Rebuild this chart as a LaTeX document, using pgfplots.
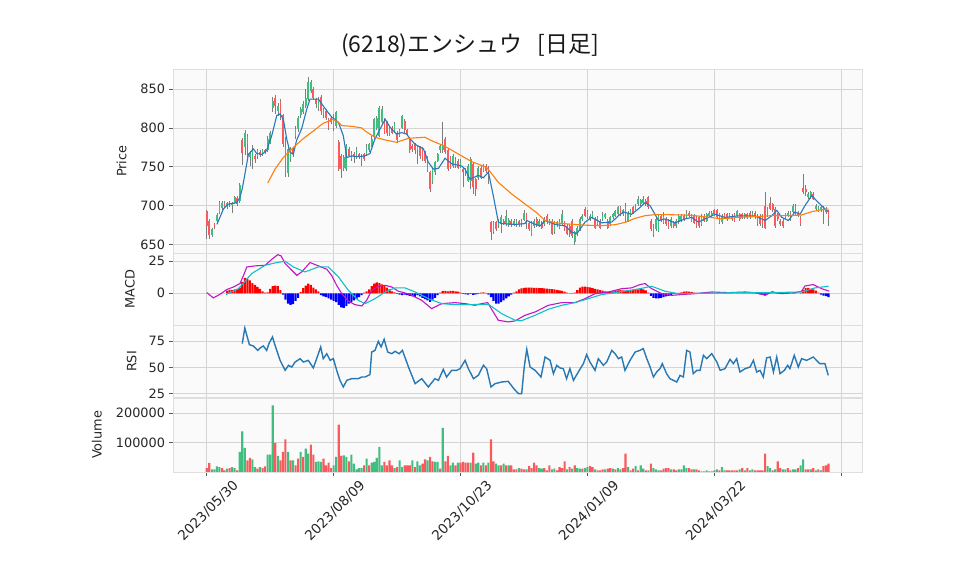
\documentclass[border=0pt]{standalone}
\usepackage{fontspec}
\setmainfont{DejaVu Sans}
\newfontfamily\jpfont{Noto Sans CJK JP}
\usepackage{pgfplots}
\usepackage{pgfplotstable}
\pgfplotsset{compat=1.18}

\definecolor{upc}{RGB}{64,190,128}
\definecolor{dnc}{RGB}{250,90,92}
\definecolor{wickc}{RGB}{125,125,125}
\definecolor{ma5c}{RGB}{40,120,190}
\definecolor{ma25c}{RGB}{255,127,14}
\definecolor{macdc}{RGB}{195,20,200}
\definecolor{sigc}{RGB}{20,190,200}
\definecolor{rsic}{RGB}{40,120,180}
\definecolor{gridc}{RGB}{212,212,212}
\definecolor{panelc}{RGB}{250,250,250}
\definecolor{spinec}{RGB}{222,222,222}

% i: trading day, o h l c: price, v: volume, vu: volume bar green(1)/red(0), hist: MACD histogram
\pgfplotstableread{
i o h l c v vu hist
0 693 695 657 674 13600 0 0
1 681 683 657 663 30700 0 0
2 663 672 660 670 9100 1 0
3 676 678 670 673 9100 1 0
4 681 690 679 688 19300 1 0
5 691 706 689 704 17000 1 0
6 697 706 694 704 13600 0 0
7 704 706 698 700 5700 0 0
8 700 705 696 703 11400 1 2
9 704 706 698 701 13600 0 2.5
10 702 705 691 703 17000 1 2.5
11 704 713 702 711 13600 1 3
12 710 713 700 702 5700 0 3.5
13 706 729 704 726 68200 1 4.5
14 784 787 752 768 138600 1 9
15 775 797 765 794 81800 1 12
16 790 792 762 779 39800 0 11.5
17 762 770 751 766 47700 0 10
18 760 778 747 773 43200 1 8
19 764 766 755 760 17000 1 6.5
20 764 773 760 771 11400 0 5
21 769 771 762 765 17000 1 3.5
22 766 773 764 771 13600 0 1.5
23 771 773 766 769 19300 0 0.5
24 771 790 769 786 59100 1 0.8
25 781 796 779 794 59100 1 3.5
26 826 840 820 835 227000 1 5.5
27 839 842 818 828 98800 0 6
28 822 832 815 828 54500 1 5.5
29 835 837 810 816 39800 0 2.5
30 816 818 775 779 68200 0 -1
31 775 788 737 741 111300 0 -5
32 742 776 737 773 68200 1 -8
33 760 776 756 773 39800 0 -9
34 773 776 762 766 39800 1 -8.5
35 790 802 786 798 22700 0 -6
36 798 815 795 813 45400 0 -3.5
37 816 827 813 824 68200 1 1
38 820 834 818 831 51100 0 4
39 828 850 826 839 79500 1 6
40 837 865 835 859 62500 1 7.5
41 848 862 845 859 93200 0 6.5
42 850 852 836 839 59100 0 4.5
43 837 839 826 831 34100 1 3
44 826 840 822 837 36400 1 1.5
45 840 842 817 822 34100 1 -1.5
46 824 826 813 816 45400 0 -2.5
47 822 824 810 813 22700 0 -3
48 811 813 797 800 31800 0 -4
49 813 815 805 807 13600 0 -5
50 800 818 796 815 22700 1 -6
51 803 822 800 820 51100 1 -7
52 782 784 745 747 161300 0 -9
53 764 766 736 747 54500 0 -11
54 749 765 745 762 56800 1 -11.5
55 747 779 745 777 51100 1 -10
56 773 776 762 764 36400 0 -8
57 760 770 757 768 59100 1 -7
58 766 769 755 762 28400 1 -5.5
59 762 775 760 773 9100 1 -4.5
60 766 768 760 762 13600 1 -3
61 760 767 751 764 13600 1 -1.5
62 766 768 758 760 22700 0 0.5
63 766 779 764 775 45400 1 1.5
64 771 781 769 779 22700 0 3
65 778 789 775 786 31800 1 5.5
66 788 813 786 811 34100 1 7.5
67 800 815 797 813 47700 1 8.5
68 790 828 788 826 85200 1 8
69 808 828 805 824 22700 1 7
70 811 813 792 794 34100 0 6
71 807 809 790 794 22700 0 4.5
72 792 802 790 800 39800 0 3
73 800 802 792 794 22700 0 1.5
74 796 807 794 805 13600 1 0.8
75 794 796 781 784 17000 0 -0.5
76 790 799 788 797 39800 1 -1
77 800 817 798 815 17000 1 -1.5
78 809 811 794 797 22700 0 -1
79 797 799 790 792 22700 0 -1.5
80 786 788 768 771 22700 0 -2
81 777 779 769 773 39800 1 -2.5
82 779 781 766 771 17000 0 -3
83 771 777 754 775 36400 1 -1.5
84 775 777 760 764 22700 1 -2.5
85 773 775 757 760 28400 0 -3.5
86 768 770 755 758 43200 0 -4.5
87 762 764 743 745 39800 1 -5.5
88 743 745 717 722 51100 0 -6.8
89 730 749 728 747 36400 0 -5
90 743 758 740 756 34100 1 -3.5
91 758 768 756 766 34100 1 -1.5
92 771 779 768 777 11400 0 0.5
93 771 807 768 777 150000 1 1.8
94 786 788 766 769 36400 0 1.8
95 771 773 745 747 54500 0 1.5
96 762 764 747 749 22700 1 1.8
97 751 766 749 764 31800 1 1.8
98 760 763 749 751 22700 0 1.5
99 758 760 747 749 31800 1 1.2
100 750 760 748 756 31800 0 0.5
101 747 749 724 743 34100 0 -0.5
102 747 749 738 743 31800 0 -0.8
103 732 753 730 751 31800 0 -1
104 732 762 722 760 31800 1 -0.5
105 754 756 715 724 65900 0 -1.2
106 734 736 713 722 28400 1 -0.8
107 735 751 733 749 31800 1 -0.5
108 749 751 734 736 22700 0 0.5
109 745 753 743 751 31800 1 0.8
110 751 753 742 745 22700 0 0.3
111 749 751 728 739 31800 1 -1
112 679 681 656 666 111300 0 -3
113 666 680 664 678 36400 0 -6
114 679 681 668 670 28400 1 -8
115 675 683 672 681 22700 1 -8
116 676 688 665 685 22700 0 -7
117 681 683 675 677 28400 1 -5.5
118 676 694 674 687 22700 0 -4
119 675 684 673 682 22700 1 -2.5
120 681 683 673 675 22700 0 -1
121 676 683 674 681 9100 0 0.5
122 675 683 673 681 9100 0 1.5
123 680 682 673 675 13600 1 3
124 681 683 673 675 11400 0 3.8
125 682 694 680 691 9100 0 4.2
126 689 691 670 679 9100 1 4.4
127 678 680 668 670 20400 0 4.4
128 663 680 661 678 13600 0 4.4
129 674 683 672 681 31800 0 4.2
130 683 685 673 675 22700 0 4.2
131 675 683 673 681 13600 1 4
132 678 680 670 672 11400 1 4
133 676 685 674 683 13600 0 3.8
134 687 689 677 679 5700 0 3.6
135 677 683 675 681 22700 0 3.5
136 681 683 662 664 9100 1 3.3
137 666 681 664 679 11400 1 3
138 675 681 673 679 5700 0 2.6
139 672 683 670 681 17000 0 2.2
140 677 694 675 689 13600 0 1.8
141 679 681 668 670 36400 0 1.2
142 674 676 662 664 9100 1 0.6
143 674 676 660 664 17000 0 0.2
144 681 683 658 661 11400 1 -0.3
145 653 668 650 666 22700 0 0.5
146 664 674 661 672 13600 1 2.5
147 670 685 668 683 11400 1 4.5
148 683 689 681 687 11400 0 5.2
149 696 698 685 687 13600 1 5.2
150 692 694 683 685 17000 1 5
151 683 689 681 687 20400 0 4.6
152 685 693 683 691 17000 0 4
153 683 685 670 672 9100 1 3.5
154 676 687 674 685 5700 0 3
155 681 683 670 672 5700 0 2.5
156 683 692 681 687 9100 0 2
157 685 691 683 689 9100 1 1.5
158 681 683 670 672 11400 0 1.2
159 676 687 674 685 13600 0 1.2
160 685 691 683 689 11400 1 1.5
161 687 695 685 693 9100 0 2
162 689 700 687 698 13600 1 2.3
163 698 700 687 689 9100 1 2.5
164 689 696 687 694 13600 0 2.3
165 698 704 679 683 62500 0 2
166 681 693 679 691 17000 1 2
167 687 696 685 694 5700 0 2.3
168 698 700 689 691 11400 0 2.5
169 696 702 694 700 20400 1 2.8
170 702 713 700 709 5700 0 3
171 702 709 700 707 22700 1 3.2
172 704 713 702 709 11400 1 3
173 706 708 700 702 5700 0 2.2
174 711 713 696 698 5700 1 0.5
175 681 683 668 670 28400 0 -2
176 674 676 660 664 13600 1 -3.5
177 670 685 668 683 9100 1 -4
178 668 689 666 687 5700 1 -4
179 687 689 679 681 5700 0 -3.5
180 678 692 676 687 11400 0 -3
181 683 685 674 676 13600 0 -2.5
182 681 683 670 672 13600 0 -2
183 674 685 672 683 9100 1 -1.2
184 679 681 672 674 9100 0 -0.5
185 674 683 672 681 5700 0 -0.3
186 679 689 677 687 9100 1 0.3
187 681 689 679 687 9100 1 0.8
188 687 689 681 683 22700 1 1.2
189 685 694 683 691 13600 1 1.5
190 691 693 685 687 13600 0 1.3
191 681 689 679 687 9100 0 1
192 687 689 676 678 9100 1 0.6
193 685 687 672 674 9100 0 0.3
194 685 687 672 674 5700 0 0.2
195 676 689 674 687 2300 1 0.3
196 687 689 679 681 2300 0 0.2
197 681 691 679 689 5700 1 0.3
198 687 693 685 691 2300 1 0.3
199 687 693 685 691 2300 0 0.3
200 695 696 687 689 5700 1 0.4
201 694 696 683 685 9100 1 0.2
202 679 691 677 689 5700 0 0.1
203 679 690 677 687 17000 1 0.1
204 689 691 683 685 5700 1 0.1
205 689 691 681 683 5700 0 0.1
206 685 691 683 689 5700 0 0.2
207 687 689 681 683 5700 0 0.2
208 689 691 679 681 5700 0 0.2
209 687 695 685 693 5700 0 0.3
210 689 691 681 683 9100 1 0.2
211 689 691 683 685 13600 0 0.1
212 685 691 683 689 5700 1 0.1
213 689 691 683 685 13600 0 0.1
214 691 693 683 685 5700 1 0.1
215 687 693 685 691 9100 1 0.2
216 691 693 683 685 5700 0 0.1
217 687 689 674 676 5700 0 -0.4
218 687 689 674 676 5700 0 -0.8
219 685 689 672 676 5700 0 -1.2
220 700 718 670 672 62500 0 -1.5
221 696 698 685 687 20400 1 -0.5
222 704 711 694 696 13600 1 0.8
223 702 704 692 694 5700 0 1.5
224 696 698 672 674 9100 1 0.8
225 689 691 681 683 36400 0 0.2
226 681 683 674 676 13600 0 -0.3
227 681 683 672 674 9100 1 -0.5
228 685 691 683 689 9100 1 -0.3
229 687 693 685 691 13600 0 -0.2
230 691 693 681 687 5700 0 0
231 692 702 690 700 9100 1 0.3
232 700 702 687 689 9100 1 0.2
233 691 693 685 687 13600 0 0
234 685 687 674 676 22700 1 -0.2
235 723 741 715 717 43200 1 2.5
236 722 726 713 717 9100 0 4
237 711 717 709 715 9100 0 4.2
238 711 719 709 717 9100 1 3.5
239 715 717 707 709 13600 0 3
240 696 702 694 700 5700 1 2
241 694 700 692 698 9100 0 0.5
242 694 700 692 698 5700 1 -1
243 698 700 676 694 20400 0 -1.8
244 696 698 689 692 22700 0 -2.2
245 694 695 674 685 28400 0 -3
}\ohlc

\pgfplotsset{
  panel/.style={
    scale only axis, width=689bp, anchor=south west,
    xmin=-13.3, xmax=258.2,
    xtick={0,50,100,150,200,250}, xticklabels={},
    axis background/.style={fill=panelc},
    axis line style={draw=spinec},
    grid=major, major grid style={draw=gridc, line width=0.8bp},
    tick align=outside, ytick pos=left, xtick pos=bottom,
    major tick length=4.5bp,
    xtick style={draw=none},
    ytick style={draw=black!65, line width=0.7bp},
    tick label style={font=\fontsize{12.9}{14}\selectfont, text=black!85},
    /pgf/number format/assume math mode=true,
    scaled ticks=false,
    yticklabel style={/pgf/number format/.cd, fixed, 1000 sep={}},
    label style={font=\fontsize{12.9}{14}\selectfont, text=black!85},
    clip=true,
  },
}

\begin{document}
\begin{tikzpicture}
\path[use as bounding box] (0,0) rectangle (958bp,575bp);

\node[font=\jpfont\fontsize{23}{26}\selectfont, text=black!90] at (470bp,530bp) {(6218)エンシュウ\ \ \ [日足]};

% ---------------- price ----------------
\begin{axis}[panel, at={(173bp,321.5bp)}, height=184.5bp,
  ymin=638.6, ymax=875.7, ytick={650,700,750,800,850},
  ylabel={Price}, ylabel style={at={(axis description cs:-0.0745,0.5)}, anchor=center}]
\addplot[draw=none, mark=none, forget plot,
  error bars/.cd, y dir=both, y explicit, error mark=none,
  error bar style={draw=wickc, line width=0.6bp}]
  table[x=i, y expr=(\thisrow{h}+\thisrow{l})/2, y error expr=(\thisrow{h}-\thisrow{l})/2] {\ohlc};
\addplot[draw=none, mark=none, forget plot,
  restrict expr to domain={\thisrow{c}-\thisrow{o}}{0:1000},
  error bars/.cd, y dir=both, y explicit, error mark=none,
  error bar style={draw=upc, line width=1.7bp}]
  table[x=i, y expr=(\thisrow{o}+\thisrow{c})/2, y error expr=abs(\thisrow{c}-\thisrow{o})/2] {\ohlc};
\addplot[draw=none, mark=none, forget plot,
  restrict expr to domain={\thisrow{c}-\thisrow{o}}{-1000:-0.001},
  error bars/.cd, y dir=both, y explicit, error mark=none,
  error bar style={draw=dnc, line width=1.7bp}]
  table[x=i, y expr=(\thisrow{o}+\thisrow{c})/2, y error expr=abs(\thisrow{c}-\thisrow{o})/2] {\ohlc};
% 5-day average
\addplot[ma5c, line width=1.1bp, mark=none] coordinates {
(4,676) (6.6,696) (8.5,702) (11.8,704) (13,710) (14,722) (15,740) (16.4,766) (18.4,773)
(19.7,767) (21.7,766) (23.6,771) (25.6,790) (27.6,816) (28.9,818) (30.2,811) (31.5,786)
(32.8,769) (34.1,766) (35.4,784) (37.4,799) (39.4,824) (40.7,837) (44,837) (45.3,831)
(47.3,822) (49.2,814) (50.5,811) (51.9,807) (53.8,790) (55.2,762) (57.1,764) (59.7,763)
(62.4,764) (64.3,767) (66.3,786) (70.3,811) (72.2,801) (74.8,792) (76.8,794) (78.8,792)
(80.1,786) (82.1,779) (85.4,773) (87.3,756) (89.3,747) (91.3,748) (93.9,761) (96.5,754)
(100.5,751) (101.8,747) (103.7,734) (107,739) (109,736) (111,743) (112.9,713) (114.9,679)
(116.2,677) (121.5,676) (125.4,677) (126.1,681) (128.7,677) (131.3,674) (133.3,681)
(137.2,676) (141.2,674) (143.8,666) (145.8,664) (149.1,679) (151.7,685) (155.6,678)
(159.6,679) (162.2,687) (164.2,692) (167.4,689) (170.1,696) (172.7,704) (174.7,700)
(178,681) (180.6,683) (184.5,678) (188.5,683) (191.1,685) (193.7,679) (196.3,683)
(200.3,689) (204.2,685) (209.5,687) (216,687) (220,681) (222.6,687) (224.6,694)
(226.6,685) (229.2,681) (231.8,692) (233.8,689) (235.7,700) (238.4,713) (241,704)
(243.6,696) (245,692)};
% 25-day average
\addplot[ma25c, line width=1.1bp, mark=none] coordinates {
(24,729) (26.9,747) (30.2,762) (34.8,777) (38.7,788) (42,796) (45.9,806) (49.9,811)
(51.9,807) (53.2,803) (57.1,802) (61.1,800) (62.4,796) (64.3,792) (66.3,788) (70.3,784.5)
(74.8,781.5) (79.4,786.6) (86,788) (88.6,783.6) (93.9,776.3) (99.1,766.5) (104.4,756.6)
(110.3,749.3) (114.9,730) (120.2,715) (125.4,702.2) (130,691) (133.3,681) (137.2,678)
(142.5,676.5) (149.1,675) (155.6,674.4) (160.9,675.6) (164.8,678.6) (168.8,683.8)
(172.7,687.2) (176.6,688.5) (181.9,688.5) (188.5,688) (192.4,687.2) (198.3,685.1)
(202.9,683) (209.5,685) (216,686) (222.6,687.2) (229.2,687.2) (234.4,688.1) (238.4,692.3)
(241.7,694.5) (245,695.8)};
\end{axis}

% ---------------- MACD ----------------
\begin{axis}[panel, at={(173bp,250bp)}, height=71.5bp,
  ymin=-24.8, ymax=31.1, ytick={0,25},
  ylabel={MACD}, ylabel style={at={(axis description cs:-0.0624,0.5)}, anchor=center}]
\addplot[ybar, bar width=2.1bp, bar shift=0pt, fill=red, draw=none,
  restrict y to domain=0.001:100] table[x=i, y=hist] {\ohlc};
\addplot[ybar, bar width=2.1bp, bar shift=0pt, fill=blue, draw=none,
  restrict y to domain=-100:-0.001] table[x=i, y=hist] {\ohlc};
\addplot[macdc, line width=1.1bp, mark=none] coordinates {
(0,0.5) (2.6,-3.6) (5.2,-0.8) (7.9,2.9) (10.5,4.9) (13.1,7.6) (14.5,14) (15.8,20.6)
(19,21.4) (23,21.9) (25.9,27) (28,30.2) (29.3,29.2) (30.9,23.2) (33.5,18) (35.5,14)
(37.4,16.7) (40.7,24) (44,21.4) (47.3,18.8) (49.2,14) (51.2,6.2) (53.2,-0.3) (55.8,-6.2)
(58.4,-8.9) (61.1,-9.9) (63,-5.5) (65,2.3) (67.6,5.5) (70.3,6.2) (72.9,4.9) (75.5,1.6)
(78.1,0.3) (80.8,-1.6) (84.7,-5.5) (88.6,-12) (92.6,-8.1) (97.8,-7.3) (101.8,-8.1)
(105.7,-9.4) (108.3,-8.1) (110.7,-7.3) (112.5,-13.3) (114.9,-21.1) (118.8,-22.4)
(121.5,-21.6) (125.4,-17.2) (129.4,-14.6) (134.6,-9.4) (139.9,-7.3) (145.1,-7.3)
(149.1,-4.2) (153,-0.3) (158.3,1) (163.5,3.6) (167.4,4.2) (170.7,6.8) (172.7,7.6)
(175.3,3.6) (179.3,-0.3) (183.2,-1.6) (187.2,-1) (192.4,-0.3) (199,1) (205.5,0.5)
(212.1,1) (217,0.3) (220,-1.6) (222.6,1) (226.5,-0.3) (231.8,0.5) (234.4,1.6) (235.7,5.7)
(239,6.8) (242.3,3.6) (245.3,1.6)};
\addplot[sigc, line width=1.1bp, mark=none] coordinates {
(7.6,-1) (12.5,3.6) (17.7,15.4) (23,21.9) (27.6,24) (30.9,25) (34.1,20.6) (38.7,16.7)
(44,20.6) (47.9,20.6) (51.9,12.8) (55.8,2.3) (59.7,-5.5) (62.4,-8.1) (66.3,-4.2) (70.3,1)
(74.2,4.2) (78.1,4.2) (82.1,1) (87.3,-4.2) (92.6,-8.1) (97.8,-8.9) (103.1,-8.9) (111,-8.6)
(116.2,-15.9) (121.5,-21.1) (124.1,-21.4) (129.4,-17.2) (134.6,-12.5) (139.9,-9.4)
(145.1,-7.3) (150.4,-4.2) (155.6,-1) (160.9,0.5) (166.1,2.1) (170.7,3.6) (175.3,5.5)
(180.6,1.6) (185.8,-0.3) (195,0) (208.2,0.5) (221.3,0.5) (234.4,1) (239.7,4.2) (245,5.5)};
\end{axis}

% ---------------- RSI ----------------
\begin{axis}[panel, at={(173bp,177.5bp)}, height=72bp,
  ymin=21, ymax=90.2, ytick={25,50,75},
  ylabel={RSI}, ylabel style={at={(axis description cs:-0.0599,0.5)}, anchor=center}]
\addplot[rsic, line width=1.4bp, mark=none] coordinates {
(14,72.8) (15,87.8) (16.8,71.8) (18.4,70.5) (20.1,66.3) (21,68.6) (22.3,70.5) (23.6,66.3)
(24.5,72.8) (25.9,79.2) (26.9,71.2) (28.9,56.7) (30.9,47.1) (32.2,51.9) (33.5,50.3)
(34.8,55.1) (36.8,58.3) (38.1,55.1) (40,56.7) (42,49.4) (43.3,58.3) (44.9,69.6) (45.9,58.3)
(47.3,63.1) (48.6,56.7) (49.9,58.3) (51.2,47.1) (52.5,37.5) (53.8,31.1) (55.2,37.5)
(57.1,39.1) (59.7,39.1) (61.1,40.7) (62.4,40.7) (64.3,43) (65,64.7) (66.3,66.3) (67.6,75)
(68.7,69.6) (69.9,76.9) (71.3,64.7) (72.9,63.1) (74.2,65.4) (75.8,63.1) (77.1,66.3)
(79.5,50.3) (82.1,34.3) (84.7,39.1) (87.3,31.1) (89.9,39.1) (91.3,37.5) (93.2,48.1)
(94.5,40.7) (96.5,47.1) (98.5,47.1) (99.8,48.7) (101.8,56.7) (103.1,48.7) (105.1,39.1)
(107,42.3) (109,51.9) (110.3,48.7) (112,31.1) (113.6,34.3) (116.2,35.9) (118.8,36.5)
(120.8,30.1) (122.8,24.7) (124.1,24.7) (125.1,50.3) (126.1,67.3) (127.4,50.3) (129.4,47.1)
(131.7,40.7) (133.3,59.9) (135.3,56.7) (136.6,43.9) (137.9,51.9) (139.2,49.4) (140.5,48.7)
(141.8,39.1) (143.1,48.7) (144.5,37.5) (146.4,45.5) (148.4,53.5) (149.7,62.2) (151,55.1)
(153,47.1) (154.3,58.3) (156.3,51.9) (157.6,55.1) (159.6,66.3) (160.9,63.1) (162.2,58.3)
(163.5,59.9) (164.8,47.1) (166.8,56.7) (168.8,64.7) (170.7,66.3) (172,68) (173.4,58.3)
(174.7,50.3) (176,40.7) (177.3,45.5) (178.6,48.7) (179.5,53.5) (181.2,43.9) (182.5,39.1)
(183.9,37.5) (185.2,35.9) (186.5,42.3) (187.8,40.7) (189.1,66.3) (190.4,64.7) (191.7,43.9)
(193.1,47.1) (194.4,47.1) (195.7,61.5) (197,58.3) (199,63.1) (201,55.1) (202.3,47.1)
(204.2,48.7) (206.2,57.7) (207.5,53.5) (208.8,58.3) (210.1,45.5) (212.1,48.7) (214.1,50.3)
(215.4,56.7) (216.7,45.5) (218,47.1) (219.3,40.7) (220.6,59) (222,59.9) (223.3,45.5)
(224.6,59.9) (225.9,43.9) (227.6,47.1) (228.9,51.9) (229.8,48.7) (231.5,61.5) (233.1,50.3)
(234.4,58.3) (236.4,56.7) (239,59.9) (241.6,53.5) (243.6,53.5) (244.9,42.3)};
\end{axis}

% ---------------- Volume ----------------
\begin{axis}[panel, at={(173bp,103bp)}, height=74bp,
  ymin=0, ymax=252000, ytick={100000,200000},
  xticklabels={2023/05/30,2023/08/09,2023/10/23,2024/01/09,2024/03/22,},
  xtick style={draw=black!65, line width=0.7bp},
  xticklabel style={font=\fontsize{13.6}{15}\selectfont, rotate=45, anchor=north east, xshift=19.5bp, yshift=-16bp},
  ylabel={Volume}, ylabel style={at={(axis description cs:-0.1107,0.5)}, anchor=center}]
\addplot[ybar, bar width=2.1bp, bar shift=0pt, fill=upc, draw=none,
  restrict expr to domain={\thisrow{vu}}{0.5:1.5}] table[x=i, y=v] {\ohlc};
\addplot[ybar, bar width=2.1bp, bar shift=0pt, fill=dnc, draw=none,
  restrict expr to domain={\thisrow{vu}}{-0.5:0.5}] table[x=i, y=v] {\ohlc};
\end{axis}
\end{tikzpicture}
\end{document}
